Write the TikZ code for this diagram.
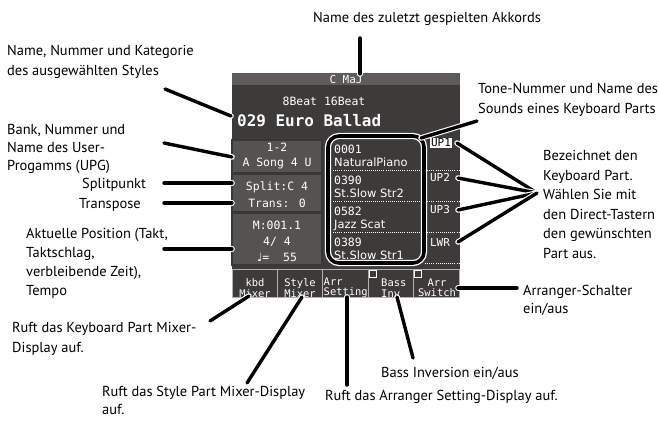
\documentclass[tikz,border=0pt]{standalone}
\usepackage{fontspec}
\setmainfont{PT Sans}
\newfontfamily\lcd{DejaVu Sans Mono}
\newfontfamily\lcdp{DejaVu Sans}
\definecolor{scr}{HTML}{3D3B39}
\definecolor{bar}{HTML}{5E5C5A}
\definecolor{pnl}{HTML}{555351}
\definecolor{pnlline}{HTML}{393736}
\definecolor{btnline}{HTML}{B4B2B0}
\begin{document}
\begin{tikzpicture}[x=1bp,y=-1bp,
  lbl/.style={font=\fontsize{14.5}{19}\selectfont, inner sep=0, align=left, anchor=base west, text=black},
  lcdt/.style={text=white, font=\lcd\fontsize{11}{13}\selectfont, inner sep=0},
  conn/.style={line width=3.4bp, line cap=round, black, preaction={draw=white, line width=5.6bp, line cap=round}},
  dotl/.style={white, line width=0.8bp, dash pattern=on 0.9bp off 1.2bp},
  btnbox/.style={draw=btnline, fill=scr, line width=0.8bp},
  pnlbox/.style={fill=pnl, draw=pnlline, line width=1.5bp},
  tnum/.style={lcdt, anchor=base west, font=\lcd\fontsize{11.5}{13}\selectfont},
  tname/.style={lcdt, anchor=base west, font=\lcdp\fontsize{11.5}{13}\selectfont},
  partl/.style={lcdt, font=\lcd\fontsize{11}{12}\selectfont},
  btnt/.style={lcdt, font=\lcd\fontsize{10.5}{10.5}\selectfont}
]
\useasboundingbox (0,0) rectangle (659,420);

% ---------- screen ----------
\fill[scr] (232,73) rectangle (460,269);
\fill[bar] (232,73) rectangle (460,85);
\node[lcdt] (chord) at (346,79.5) {C MaJ};
\node[lcdt, font=\lcd\fontsize{11.5}{13}\selectfont] (cat) at (324,101) {8Beat 16Beat};
\node[lcdt, anchor=west, font=\lcd\bfseries\fontsize{16}{18}\selectfont] (stylename) at (237,121) {029 Euro Ballad};

% left panels
\draw[pnlbox] (232,140) rectangle (322,173);
\draw[pnlbox] (232,174) rectangle (322,212);
\draw[pnlbox] (232,213) rectangle (322,265);
\node[lcdt, align=center, font=\lcd\fontsize{11.5}{15}\selectfont] (upg) at (277,156) {1-2\\A Song 4 U};
\node[lcdt, font=\lcd\fontsize{11.5}{13}\selectfont] (splitv) at (277,187) {Split:C 4};
\node[lcdt, font=\lcd\fontsize{11.5}{13}\selectfont] (transv) at (277,203) {Trans: 0};
\node[lcdt, align=center, font=\lcd\fontsize{11.5}{16}\selectfont] (posv) at (277,241) {M:001.1\\4/ 4\\{\lcdp ♩}=\ \ 55};

% tone list
\begin{scope}
  \clip (330,137) rectangle (422,262);
  \node[tnum] (t1n) at (334,153) {0001};
  \node[tname] (t1) at (334,166) {NaturalPiano};
  \node[tnum] (t2n) at (334,184) {0390};
  \node[tname] (t2) at (334,197) {St.Slow Str2};
  \node[tnum] (t3n) at (334,215) {0582};
  \node[tname] (t3) at (334,228) {Jazz Scat};
  \node[tnum] (t4n) at (334,246) {0389};
  \node[tname] (t4) at (334,259) {St.Slow Str1};
\end{scope}
\foreach \yy in {170,201,232,263}{
  \draw[dotl] (333,\yy) -- (420,\yy);
  \draw[dotl] (425,\yy) -- (459,\yy);
}
\draw[white, line width=6.2bp, rounded corners=11bp] (328,136) rectangle (424,263);
\draw[black, line width=3.6bp, rounded corners=11bp] (328,136) rectangle (424,263);
\coordinate (toneboxNE) at (421,138);

% part labels
\node[partl, fill=white, text=black, inner sep=1.2bp] (up1) at (441,143) {UP1};
\node[partl] (up2) at (440,178) {UP2};
\node[partl] (up3) at (440,210) {UP3};
\node[partl] (lwr) at (440,242) {LWR};

% buttons
\draw[btnbox] (232,269) rectangle (277,297);
\draw[btnbox] (277,269) rectangle (322,297);
\draw[btnbox] (322,269) rectangle (368,297);
\draw[btnbox] (368,269) rectangle (413,297);
\draw[btnbox] (413,269) rectangle (459,297);
\draw[white, fill=scr, line width=1.3bp] (369.8,270.5) rectangle (376.5,277.2);
\draw[white, fill=scr, line width=1.3bp] (414.8,270.5) rectangle (421.5,277.2);
\node[btnt, align=center] (bkbd) at (255,288) {kbd\\Mixer};
\node[btnt, align=center] (bsty) at (300,288) {Style\\Mixer};
\node[btnt, align=left, anchor=west] (bset) at (323.5,288) {Arr\\Setting};
\node[btnt, align=left, anchor=west] (bbass) at (381,288) {Bass\\Inv};
\node[btnt, align=center] (bsw) at (437,288) {Arr\\Switch};

% ---------- labels (base = last line) ----------
\node[lbl] (lakk) at (313,22) {Name des zuletzt gespielten Akkords};
\node[lbl, font=\fontsize{14.5}{20}\selectfont] (lsty) at (7,75) {Name, Nummer und Kategorie\\des ausgewählten Styles};
\node[lbl, font=\fontsize{14.5}{18}\selectfont] (lbank) at (7,170) {Bank, Nummer und\\Name des User-\\Progamms (UPG)};
\node[lbl] (lsplit) at (82,188) {Splitpunkt};
\node[lbl] (ltrans) at (79,208) {Transpose};
\node[lbl] (lakt) at (26,295) {Aktuelle Position (Takt,\\Taktschlag,\\verbleibende Zeit),\\Tempo};
\node[lbl, font=\fontsize{14.5}{20}\selectfont] (lkbd) at (12,352) {Ruft das Keyboard Part Mixer-\\Display auf.};
\node[lbl, font=\fontsize{14.5}{18}\selectfont] (lstm) at (102,414) {Ruft das Style Part Mixer-Display\\auf.};
\node[lbl] (lset) at (325,400) {Ruft das Arranger Setting-Display auf.};
\node[lbl] (lbass) at (381,377) {Bass Inversion ein/aus};
\node[lbl, font=\fontsize{14.5}{18}\selectfont] (lsw) at (523,313) {Arranger-Schalter\\ein/aus};
\node[lbl, font=\fontsize{14.5}{20}\selectfont] (ltone) at (478,113) {Tone-Nummer und Name des\\Sounds eines Keyboard Parts};
\node[lbl, font=\fontsize{14.5}{19.5}\selectfont] (lbez) at (543,258) {Bezeichnet den\\Keyboard Part.\\Wählen Sie mit\\den Direct-Tastern\\den gewünschten\\Part aus.};

% ---------- connector end points ----------
\coordinate (cakk) at (360,38);
\coordinate (cakk2) at (360,74);
\coordinate (csty) at (165,89);
\coordinate (csty2) at (231,116);
\coordinate (cbank) at (164,143);
\coordinate (cbank2) at (232,157);
\coordinate (csplit) at (164,183);
\coordinate (csplit2) at (232,183);
\coordinate (ctrans) at (164,203);
\coordinate (ctrans2) at (232,203);
\coordinate (cakt) at (164,249);
\coordinate (cakt2) at (232,249);
\coordinate (ckbd) at (210,321);
\coordinate (ckbd2) at (249,296);
\coordinate (cstm) at (247,383);
\coordinate (cstm2) at (302,297);
\coordinate (cset) at (347,385);
\coordinate (cset2) at (347,297);
\coordinate (cbass) at (413,358);
\coordinate (cbass2) at (397,297);
\coordinate (csw) at (517,288);
\coordinate (csw2) at (458,288);
\coordinate (ctone) at (477,121);
\coordinate (cconv) at (537,193);
\coordinate (cup1) at (457,143);
\coordinate (cup2) at (458,178);
\coordinate (cup3) at (458,210);
\coordinate (clwr) at (458,242);

% ---------- connectors ----------
\draw[conn] (cakk) -- (cakk2);
\draw[conn] (csty) -- (csty2);
\draw[conn] (cbank) -- (cbank2);
\draw[conn] (csplit) -- (csplit2);
\draw[conn] (ctrans) -- (ctrans2);
\draw[conn] (cakt) -- (cakt2);
\draw[conn] (ckbd) -- (ckbd2);
\draw[conn] (cstm) -- (cstm2);
\draw[conn] (cset) -- (cset2);
\draw[conn] (cbass) -- (cbass2);
\draw[conn] (csw) -- (csw2);
\draw[conn] (ctone) -- (toneboxNE);
\draw[conn] (cconv) -- (cup1);
\draw[conn] (cconv) -- (cup2);
\draw[conn] (cconv) -- (cup3);
\draw[conn] (cconv) -- (clwr);
\end{tikzpicture}
\end{document}
